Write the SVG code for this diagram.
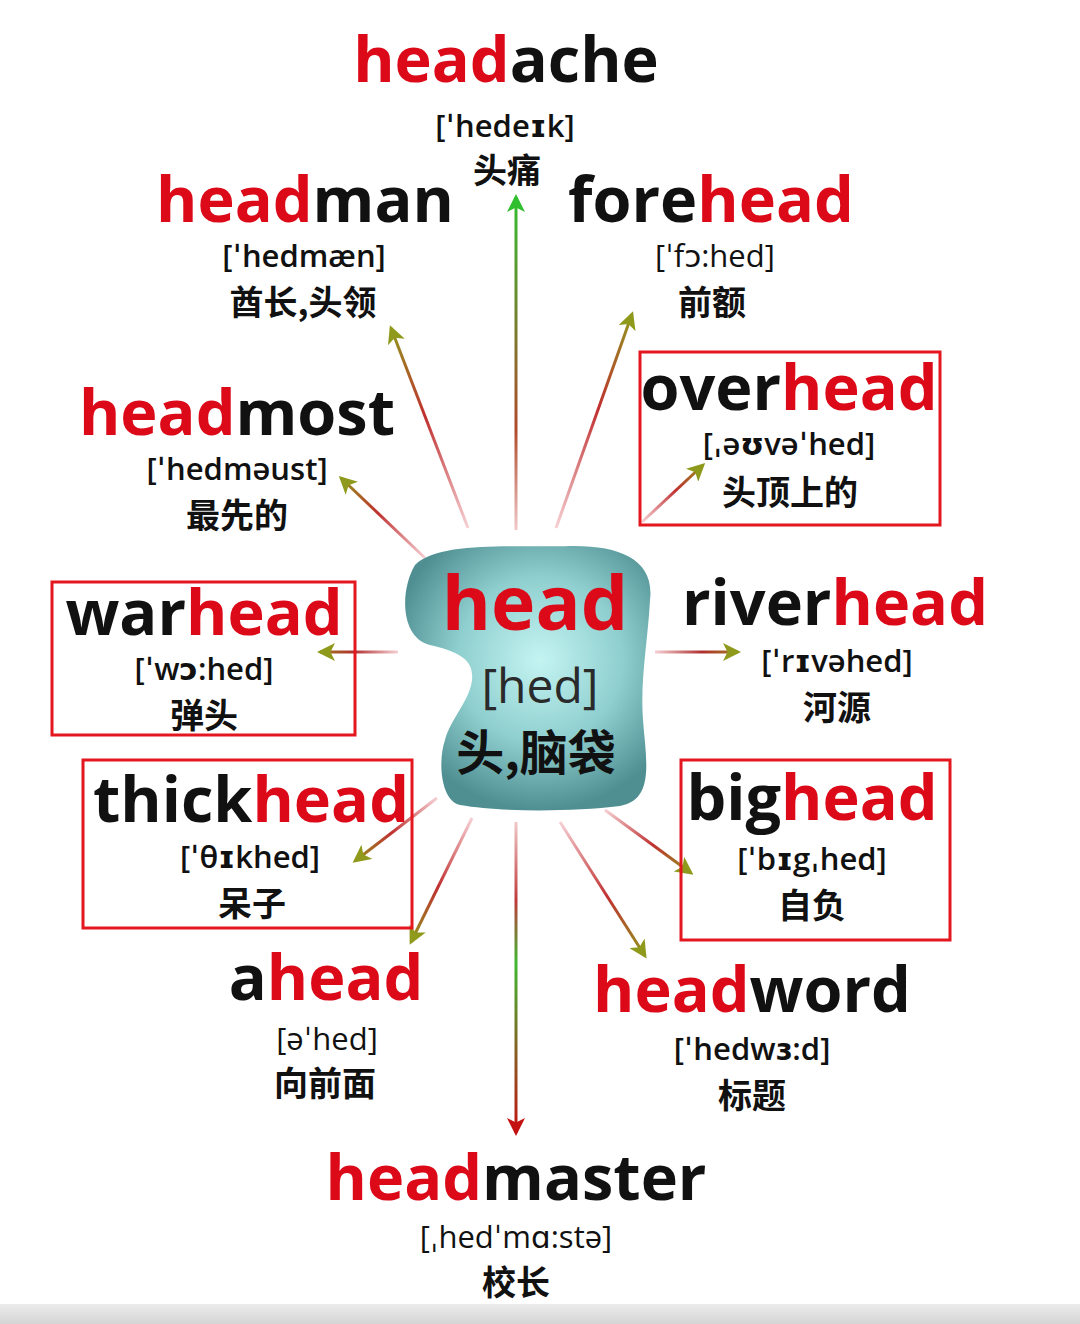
<svg xmlns="http://www.w3.org/2000/svg" width="1080" height="1324" viewBox="0 0 1080 1324">
<style>
text{font-family:"Open Sans","DejaVu Sans","Noto Sans CJK SC",sans-serif;text-anchor:middle;fill:#111}
.t{font-size:63px;font-weight:700}
.r{fill:#dc0a18}
.p{font-size:31px;font-weight:600}
.pl{font-size:31px;font-weight:400}
.c{font-family:"Noto Sans CJK SC","Noto Sans",sans-serif;font-size:34px;font-weight:700}
.box{fill:none;stroke:#e4161e;stroke-width:3}
.cn{fill:none;stroke-width:3}
</style>
<defs>
<marker id="ah" viewBox="0 0 12 12" refX="10" refY="6" markerWidth="6" markerHeight="6" orient="auto" markerUnits="strokeWidth">
<path d="M0,0 L12,6 L0,12 L3,6 Z" fill="#8f9a1c"/>
</marker>
<marker id="ahg" viewBox="0 0 12 12" refX="10" refY="6" markerWidth="6" markerHeight="6" orient="auto" markerUnits="strokeWidth">
<path d="M0,0 L12,6 L0,12 L3,6 Z" fill="#2fbf2f"/>
</marker>
<marker id="ahr" viewBox="0 0 12 12" refX="10" refY="6" markerWidth="6" markerHeight="6" orient="auto" markerUnits="strokeWidth">
<path d="M0,0 L12,6 L0,12 L3,6 Z" fill="#c41010"/>
</marker>
<radialGradient id="blob" cx="540" cy="660" r="150" gradientUnits="userSpaceOnUse">
<stop offset="0" stop-color="#c4f4f2"/>
<stop offset="0.55" stop-color="#8fcfcf"/>
<stop offset="1" stop-color="#4f8f92"/>
</radialGradient>
<linearGradient id="band" x1="0" y1="0" x2="0" y2="1">
<stop offset="0" stop-color="#ececec"/>
<stop offset="1" stop-color="#d4d4d4"/>
</linearGradient>
<linearGradient id="gUp" gradientUnits="userSpaceOnUse" x1="516" y1="530" x2="516" y2="195">
<stop offset="0" stop-color="#f0c8c8"/>
<stop offset="0.3" stop-color="#b04a2a"/>
<stop offset="1" stop-color="#2fbf2f"/>
</linearGradient>
<linearGradient id="gDn" gradientUnits="userSpaceOnUse" x1="516" y1="822" x2="516" y2="1135">
<stop offset="0" stop-color="#f0c8c8"/>
<stop offset="0.25" stop-color="#c03a3a"/>
<stop offset="0.45" stop-color="#3fb82f"/>
<stop offset="0.75" stop-color="#8a5a20"/>
<stop offset="1" stop-color="#c41010"/>
</linearGradient>
<linearGradient id="g2" gradientUnits="userSpaceOnUse" x1="468" y1="528" x2="390" y2="326"><stop offset="0" stop-color="#f6d0d4"/><stop offset="0.55" stop-color="#c03030"/><stop offset="1" stop-color="#8f9a1c"/></linearGradient>
<linearGradient id="g3" gradientUnits="userSpaceOnUse" x1="556" y1="528" x2="633" y2="312"><stop offset="0" stop-color="#f6d0d4"/><stop offset="0.55" stop-color="#c03030"/><stop offset="1" stop-color="#8f9a1c"/></linearGradient>
<linearGradient id="g4" gradientUnits="userSpaceOnUse" x1="642" y1="522" x2="704" y2="464"><stop offset="0" stop-color="#f6d0d4"/><stop offset="0.55" stop-color="#c03030"/><stop offset="1" stop-color="#8f9a1c"/></linearGradient>
<linearGradient id="g5" gradientUnits="userSpaceOnUse" x1="425" y1="558" x2="340" y2="477"><stop offset="0" stop-color="#f6d0d4"/><stop offset="0.55" stop-color="#c03030"/><stop offset="1" stop-color="#8f9a1c"/></linearGradient>
<linearGradient id="g6" gradientUnits="userSpaceOnUse" x1="398" y1="652" x2="318" y2="652"><stop offset="0" stop-color="#f6d0d4"/><stop offset="0.55" stop-color="#b03030"/><stop offset="1" stop-color="#a0801c"/></linearGradient>
<linearGradient id="g7" gradientUnits="userSpaceOnUse" x1="655" y1="652" x2="740" y2="652"><stop offset="0" stop-color="#f6d0d4"/><stop offset="0.55" stop-color="#b03030"/><stop offset="1" stop-color="#a0801c"/></linearGradient>
<linearGradient id="g8" gradientUnits="userSpaceOnUse" x1="437" y1="798" x2="354" y2="862"><stop offset="0" stop-color="#f6d0d4"/><stop offset="0.55" stop-color="#c03030"/><stop offset="1" stop-color="#8f9a1c"/></linearGradient>
<linearGradient id="g9" gradientUnits="userSpaceOnUse" x1="472" y1="818" x2="410" y2="944"><stop offset="0" stop-color="#f6d0d4"/><stop offset="0.55" stop-color="#c03030"/><stop offset="1" stop-color="#8f9a1c"/></linearGradient>
<linearGradient id="g10" gradientUnits="userSpaceOnUse" x1="605" y1="810" x2="692" y2="874"><stop offset="0" stop-color="#f6d0d4"/><stop offset="0.55" stop-color="#c03030"/><stop offset="1" stop-color="#8f9a1c"/></linearGradient>
<linearGradient id="g11" gradientUnits="userSpaceOnUse" x1="560" y1="822" x2="646" y2="958"><stop offset="0" stop-color="#f6d0d4"/><stop offset="0.55" stop-color="#c03030"/><stop offset="1" stop-color="#8f9a1c"/></linearGradient>
</defs>
<rect x="0" y="0" width="1080" height="1324" fill="#ffffff"/>
<rect x="0" y="1304" width="1080" height="20" fill="url(#band)"/>

<g id="connectors">
<line class="cn" x1="516" y1="530" x2="516" y2="197" stroke="url(#gUp)" marker-end="url(#ahg)"/>
<line class="cn" x1="468" y1="528" x2="391" y2="328" stroke="url(#g2)" marker-end="url(#ah)"/>
<line class="cn" x1="556" y1="528" x2="632" y2="314" stroke="url(#g3)" marker-end="url(#ah)"/>
<line class="cn" x1="642" y1="522" x2="703" y2="465" stroke="url(#g4)" marker-end="url(#ah)"/>
<line class="cn" x1="425" y1="558" x2="341" y2="478" stroke="url(#g5)" marker-end="url(#ah)"/>
<line class="cn" x1="398" y1="652" x2="320" y2="652" stroke="url(#g6)" marker-end="url(#ah)"/>
<line class="cn" x1="655" y1="652" x2="738" y2="652" stroke="url(#g7)" marker-end="url(#ah)"/>
<line class="cn" x1="437" y1="798" x2="355" y2="861" stroke="url(#g8)" marker-end="url(#ah)"/>
<line class="cn" x1="472" y1="818" x2="411" y2="942" stroke="url(#g9)" marker-end="url(#ah)"/>
<line class="cn" x1="605" y1="810" x2="691" y2="873" stroke="url(#g10)" marker-end="url(#ah)"/>
<line class="cn" x1="560" y1="822" x2="645" y2="956" stroke="url(#g11)" marker-end="url(#ah)"/>
<line class="cn" x1="516" y1="822" x2="516" y2="1133" stroke="url(#gDn)" marker-end="url(#ahr)"/>
</g>

<g id="head">
<path d="M415,565 C440,540 520,548 570,546 C620,545 655,560 650,600 C648,640 640,680 643,720 C646,760 655,800 620,806 C570,812 500,812 460,805 C440,800 438,760 445,740 C450,720 470,700 472,680 C474,660 460,652 430,645 C400,638 400,590 415,565 Z" fill="url(#blob)"/>
<text x="535" y="630" class="t r" style="font-size:75px">head</text>
<text x="540" y="703" style="font-size:48px;fill:#2a2a2a">[hed]</text>
<text x="536" y="770" class="c" style="font-size:48px">头,脑袋</text>
</g>

<g id="headache">
<text x="506" y="82" class="t"><tspan class="r">head</tspan>ache</text>
<text x="505" y="137" class="p">[ˈhedeɪk]</text>
<text x="507" y="183" class="c">头痛</text>
</g>

<g id="headman">
<text x="305" y="222" class="t"><tspan class="r">head</tspan>man</text>
<text x="304" y="267" class="p">[ˈhedmæn]</text>
<text x="303" y="315" class="c">酋长,头领</text>
</g>

<g id="forehead">
<text x="711" y="222" class="t">fore<tspan class="r">head</tspan></text>
<text x="715" y="267" class="pl">[ˈfɔ:hed]</text>
<text x="712" y="315" class="c">前额</text>
</g>

<g id="overhead">
<rect class="box" x="640" y="352" width="300" height="173"/>
<text x="789" y="410" class="t">over<tspan class="r">head</tspan></text>
<text x="789" y="455" class="p">[ˌəʊvəˈhed]</text>
<text x="790" y="505" class="c">头顶上的</text>
</g>

<g id="headmost">
<text x="237" y="435" class="t"><tspan class="r">head</tspan>most</text>
<text x="237" y="480" class="p">[ˈhedməust]</text>
<text x="237" y="528" class="c">最先的</text>
</g>

<g id="warhead">
<rect class="box" x="52" y="582" width="303" height="153"/>
<text x="204" y="635" class="t">war<tspan class="r">head</tspan></text>
<text x="204" y="680" class="p">[ˈwɔ:hed]</text>
<text x="204" y="728" class="c">弹头</text>
</g>

<g id="riverhead">
<text x="835" y="625" class="t">river<tspan class="r">head</tspan></text>
<text x="837" y="672" class="p">[ˈrɪvəhed]</text>
<text x="837" y="720" class="c">河源</text>
</g>

<g id="thickhead">
<rect class="box" x="83" y="760" width="329" height="168"/>
<text x="251" y="822" class="t">thick<tspan class="r">head</tspan></text>
<text x="250" y="868" class="p">[ˈθɪkhed]</text>
<text x="252" y="916" class="c">呆子</text>
</g>

<g id="bighead">
<rect class="box" x="681" y="760" width="269" height="180"/>
<text x="812" y="820" class="t">big<tspan class="r">head</tspan></text>
<text x="812" y="870" class="p">[ˈbɪgˌhed]</text>
<text x="812" y="918" class="c">自负</text>
</g>

<g id="ahead">
<text x="326" y="1000" class="t">a<tspan class="r">head</tspan></text>
<text x="327" y="1050" class="pl">[əˈhed]</text>
<text x="325" y="1096" class="c">向前面</text>
</g>

<g id="headword">
<text x="752" y="1012" class="t"><tspan class="r">head</tspan>word</text>
<text x="752" y="1060" class="p">[ˈhedwɜ:d]</text>
<text x="752" y="1108" class="c">标题</text>
</g>

<g id="headmaster">
<text x="516" y="1200" class="t"><tspan class="r">head</tspan>master</text>
<text x="516" y="1248" class="pl">[ˌhedˈmɑ:stə]</text>
<text x="516" y="1295" class="c">校长</text>
</g>
</svg>
